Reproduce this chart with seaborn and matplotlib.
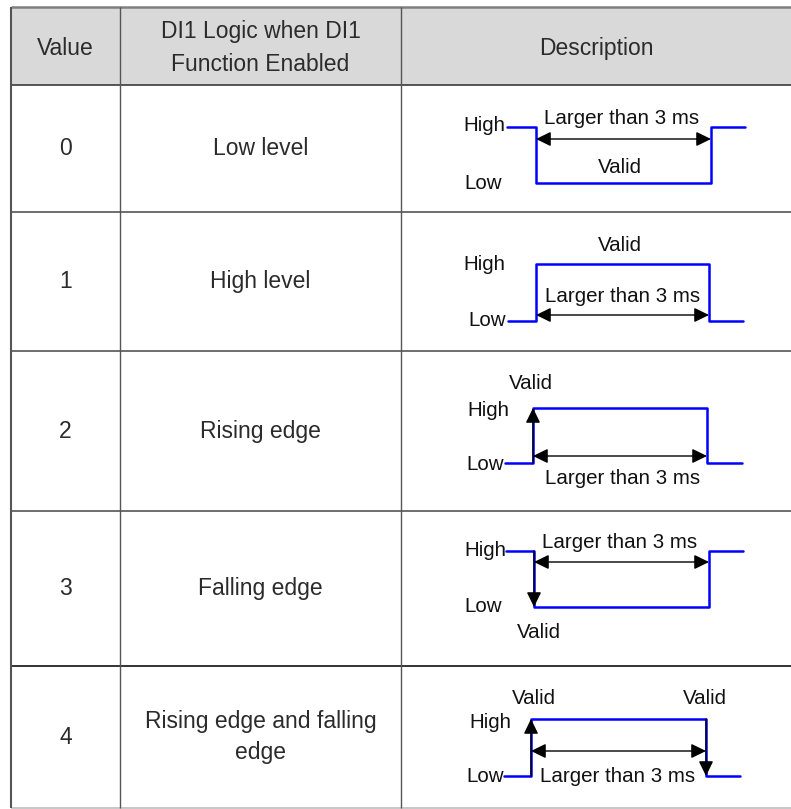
import numpy as np
import pandas as pd
import matplotlib
matplotlib.use("Agg")
import matplotlib.pyplot as plt
import seaborn as sns

sns.set_theme(style="white")
plt.rcParams["font.family"] = ["Liberation Sans", "DejaVu Sans"]

# ---------------------------------------------------------------------------
# Table content
# ---------------------------------------------------------------------------
headers = ["Value", "DI1 Logic when DI1\nFunction Enabled", "Description"]
values = ["0", "1", "2", "3", "4"]
logic = ["Low level", "High level", "Rising edge", "Falling edge",
         "Rising edge and falling\nedge"]

# waveform for each row: edge times (px) and logic level at each point
wave_x = [
    [507, 536, 536, 711, 711, 745],
    [508, 536, 536, 709, 709, 743],
    [505, 533, 533, 707, 707, 742],
    [506, 534, 534, 709, 709, 743],
    [504, 531, 531, 706, 706, 740],
]
wave_lvl = [
    [1, 1, 0, 0, 1, 1],
    [0, 0, 1, 1, 0, 0],
    [0, 0, 1, 1, 0, 0],
    [1, 1, 0, 0, 1, 1],
    [0, 0, 1, 1, 0, 0],
]
# which edges are marked "valid" with an arrow: (edge index, direction)
valid_edges = [[], [], [(0, "up")], [(0, "down")], [(0, "up"), (1, "down")]]

# ---------------------------------------------------------------------------
# Layout (pixel space)
# ---------------------------------------------------------------------------
W, H = 791, 809
col_x = [11, 120, 401, 791]
row_y = [7, 85, 212, 351, 511, 666, 808]
hi_y = [127, 264, 408, 551, 719]
lo_y = [183, 321, 463, 607, 776]
span_y = [139, 315, 456, 562, 751]

fig = plt.figure(figsize=(W / 100, H / 100), dpi=100)
ax = fig.add_axes([0, 0, 1, 1])
ax.set_xlim(0, W)
ax.set_ylim(H, 0)
ax.axis("off")

txt_col = "#2b2b2b"
fs_tab = 16.5
fs_dia = 14.8
head2 = "<|-|>,head_length=0.45,head_width=0.22"
head1 = "-|>,head_length=0.45,head_width=0.22"

# header
ax.add_patch(plt.Rectangle((col_x[0], row_y[0]), W - col_x[0], row_y[1] - row_y[0],
                           facecolor="#d9d9d9", edgecolor="none", zorder=0))
ax.hlines(row_y[0], col_x[0], W, color="#7f7f7f", lw=1.8)
ax.hlines(row_y[1], col_x[0], W, color="#3a3a3a", lw=1.2)
for yy in row_y[2:5]:
    ax.hlines(yy, col_x[0], W, color="#555555", lw=1.2)
ax.hlines(row_y[5], col_x[0], W, color="#111111", lw=1.2)
ax.hlines(row_y[6], col_x[0], W, color="#bdbdbd", lw=1.2)
ax.vlines(col_x[0], row_y[0], row_y[6], color="#555555", lw=1.5)
for xx in col_x[1:3]:
    ax.vlines(xx, row_y[0], row_y[6], color="#555555", lw=1.0)

col_c = [(col_x[i] + col_x[i + 1]) / 2 for i in range(3)]
hy = (row_y[0] + row_y[1]) / 2 + 2
for c, h in zip(col_c, headers):
    ax.text(c, hy, h, ha="center", va="center", fontsize=fs_tab, color=txt_col,
            linespacing=1.55)

for i in range(5):
    cy = (row_y[i + 1] + row_y[i + 2]) / 2
    ax.text(col_c[0], cy, values[i], ha="center", va="center", fontsize=fs_tab, color=txt_col)
    ax.text(col_c[1], cy, logic[i], ha="center", va="center", fontsize=fs_tab,
            color=txt_col, linespacing=1.45)

# ---------------------------------------------------------------------------
# Waveforms
# ---------------------------------------------------------------------------
for i in range(5):
    ys = [hi_y[i] if v else lo_y[i] for v in wave_lvl[i]]
    wf = pd.DataFrame({"x": wave_x[i], "y": ys})
    sns.lineplot(data=wf, x="x", y="y", sort=False, estimator=None,
                 color="#0000ff", lw=1.8, ax=ax, zorder=3)
    # width span arrow
    x1, x2 = wave_x[i][1], wave_x[i][3]
    ax.annotate("", xy=(x2, span_y[i]), xytext=(x1, span_y[i]),
                arrowprops=dict(arrowstyle=head2, color="black", lw=1.0,
                                mutation_scale=20, shrinkA=0, shrinkB=0), zorder=4)
    for k, d in valid_edges[i]:
        ex = wave_x[i][1 + 2 * k]
        a, b = (lo_y[i], hi_y[i]) if d == "up" else (hi_y[i], lo_y[i])
        ax.annotate("", xy=(ex, b), xytext=(ex, a),
                    arrowprops=dict(arrowstyle=head1, color="black", lw=1.0,
                                    mutation_scale=20, shrinkA=0, shrinkB=0), zorder=4)

ax.set_xlabel("")
ax.set_ylabel("")

def t(x, y, s, ha="center"):
    ax.text(x, y, s, ha=ha, va="center", fontsize=fs_dia, color="#111111")

lg = "Larger than 3 ms"
# row 0
t(505, 125, "High", "right"); t(483, 183, "Low"); t(622, 118, lg); t(620, 167, "Valid")
# row 1
t(620, 245, "Valid"); t(484, 265, "High"); t(623, 296, lg); t(506, 320, "Low", "right")
# row 2
t(531, 383, "Valid"); t(488, 410, "High"); t(504, 464, "Low", "right"); t(623, 478, lg)
# row 3
t(506, 550, "High", "right"); t(620, 543, lg); t(483, 607, "Low"); t(539, 633, "Valid")
# row 4
t(534, 699, "Valid"); t(705, 699, "Valid"); t(490, 722, "High")
t(504, 776, "Low", "right"); t(618, 777, lg)

fig.savefig("out.png", dpi=100)
